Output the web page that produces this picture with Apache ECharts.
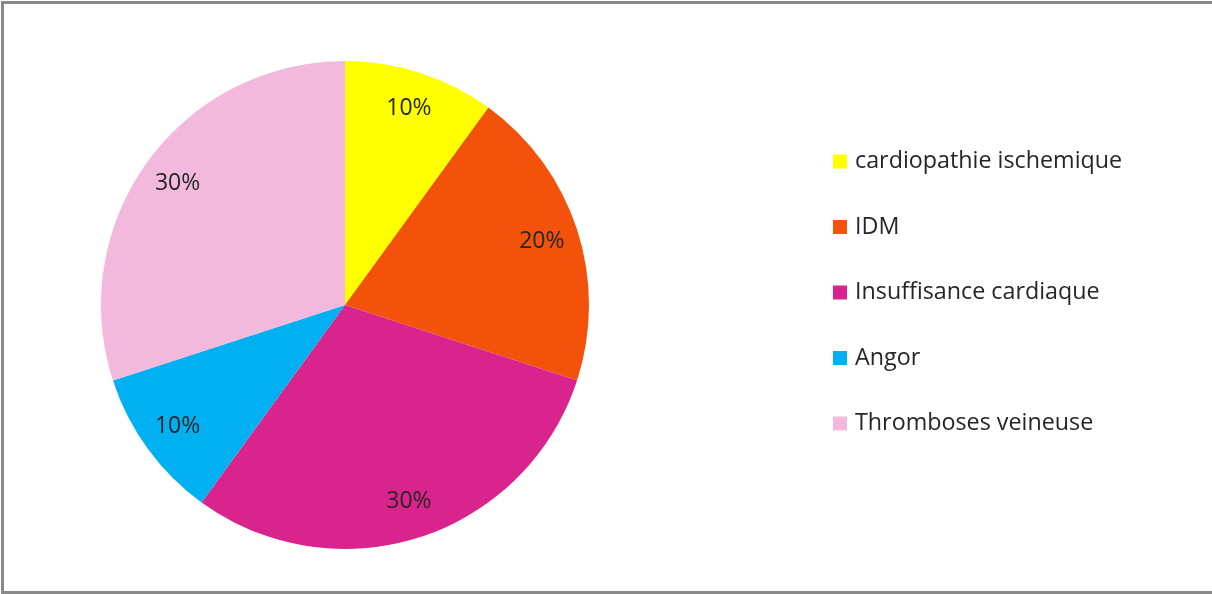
<!DOCTYPE html>
<html>
<head>
<meta charset="utf-8">
<script src="https://cdn.jsdelivr.net/npm/echarts@6/dist/echarts.min.js"></script>
<style>
  html, body { margin: 0; padding: 0; width: 1212px; height: 594px; overflow: hidden; background: #ffffff; }
  #frame { position: absolute; left: 1px; top: 1px; width: 1240px; height: 587px; border: 3px solid #898989; background: #ffffff; }
  #chart { position: absolute; left: 0; top: 0; width: 1212px; height: 594px; }
</style>
</head>
<body>
<div id="frame"></div>
<div id="chart"></div>
<script>
// Répartition des pathologies cardiovasculaires (%)
const categories = ['cardiopathie ischemique', 'IDM', 'Insuffisance cardiaque', 'Angor', 'Thromboses veineuse'];
const values = [10, 20, 30, 10, 30];
const colors = ['#FFFF00', '#F3520A', '#D8248C', '#00B0F0', '#F2B9DC'];

const FONT = '"Open Sans", "Noto Sans", sans-serif';
const center = [345, 305];
const R = 244;

const chart = echarts.init(document.getElementById('chart'), null, { renderer: 'canvas' });

const sliceData = categories.map((name, i) => ({
  name,
  value: values[i],
  itemStyle: { color: colors[i] }
}));

// Transparent ring carrying the percentage labels near the outer edge
const labelData = categories.map((name, i) => ({
  name,
  value: values[i],
  itemStyle: { color: 'rgba(0,0,0,0)' }
}));

chart.setOption({
  animation: false,
  legend: {
    orient: 'vertical',
    left: 833,
    top: 150,
    padding: 0,
    itemWidth: 14,
    itemHeight: 14,
    itemGap: 42.5,
    icon: 'rect',
    data: categories,
    selectedMode: false,
    textStyle: { fontFamily: FONT, fontSize: 23.3, lineHeight: 23, color: '#262626', padding: [0, 0, 0, 3] }
  },
  series: [
    {
      type: 'pie',
      center,
      radius: [0, R],
      startAngle: 90,
      clockwise: true,
      avoidLabelOverlap: false,
      silent: true,
      label: { show: false },
      labelLine: { show: false },
      itemStyle: { borderWidth: 0 },
      data: sliceData
    },
    {
      type: 'pie',
      center,
      radius: [164, R],
      startAngle: 90,
      clockwise: true,
      avoidLabelOverlap: false,
      silent: true,
      legendHoverLink: false,
      itemStyle: { borderWidth: 0 },
      label: {
        show: true,
        position: 'inside',
        formatter: p => p.value + '%',
        fontFamily: FONT,
        fontSize: 23,
        color: '#262626'
      },
      labelLine: { show: false },
      data: labelData
    }
  ]
});
</script>
</body>
</html>
